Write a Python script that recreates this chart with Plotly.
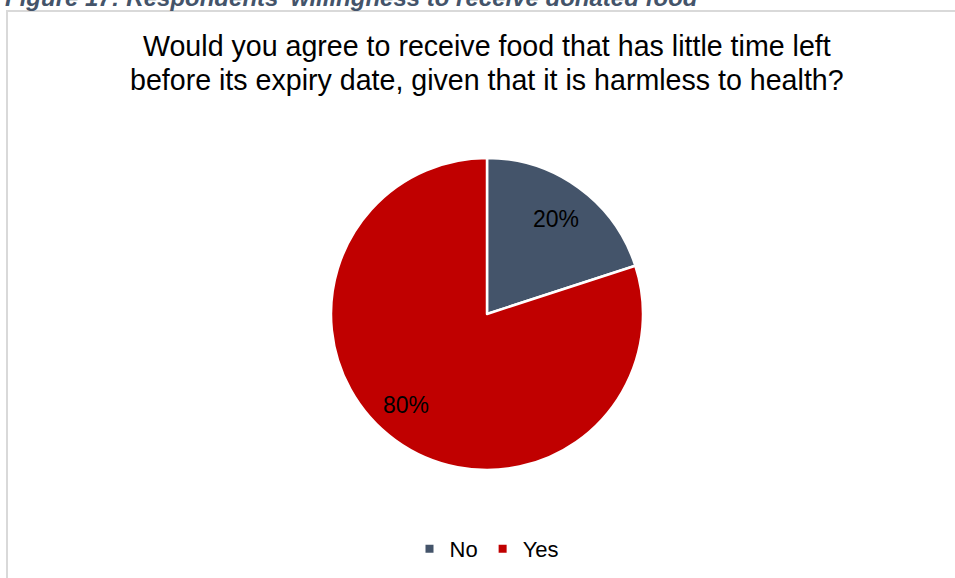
import math
import plotly.graph_objects as go

# Survey answers and their shares (%)
answers = ["No", "Yes"]
shares = [20, 80]
colors = ["#44546A", "#C00000"]

caption = "Figure 17: Respondents' willingness to receive donated food"
title_lines = [
    "Would you agree to receive food that has little time left",
    "before its expiry date, given that it is harmless to health?",
]

W, H = 955, 578
FONT = "Liberation Sans, Arial, sans-serif"

# pie placement (pixels)
cx, cy, R = 487, 314, 156
dom_x = [(cx - R) / W, (cx + R) / W]
dom_y = [1 - (cy + R) / H, 1 - (cy - R) / H]

fig = go.Figure()
fig.add_trace(go.Pie(
    labels=answers,
    values=shares,
    sort=False,
    direction="clockwise",
    rotation=0,
    marker=dict(colors=colors, line=dict(color="white", width=2.5)),
    textinfo="none",
    hoverinfo="label+percent",
    showlegend=False,
    domain=dict(x=dom_x, y=dom_y),
))

# legend entries with small square keys
for name, col in zip(answers, colors):
    fig.add_trace(go.Scatter(
        x=[None], y=[None], mode="markers", name=name,
        marker=dict(symbol="square", size=8, color=col),
        showlegend=True,
    ))

# percentage labels placed along each slice's bisector
annotations = []
total = sum(shares)
cum = 0
label_r = [0.75, 0.78]
label_shift = [0.0, 5.5]  # degrees
for v, rf, sh in zip(shares, label_r, label_shift):
    mid = (cum + v / 2) / total * 360 + sh
    cum += v
    th = math.radians(mid)
    px = cx + rf * R * math.sin(th)
    py = cy - rf * R * math.cos(th)
    annotations.append(dict(
        x=px / W, y=1 - py / H, xref="paper", yref="paper",
        text=f"{round(v / total * 100)}%", showarrow=False,
        xanchor="center", yanchor="middle",
        font=dict(family=FONT, size=23, color="#000000"),
    ))

# chart title, two lines
for line, yc in zip(title_lines, [46.5, 80.5]):
    annotations.append(dict(
        x=cx / W, y=1 - yc / H, xref="paper", yref="paper",
        text=line, showarrow=False, xanchor="center", yanchor="middle",
        font=dict(family=FONT, size=28.6, color="#000000"),
    ))

# figure caption above the chart frame
annotations.append(dict(
    x=3 / W, y=1 + 3 / H, xref="paper", yref="paper",
    text=f"<b><i>{caption}</i></b>", showarrow=False,
    xanchor="left", yanchor="middle",
    font=dict(family=FONT, size=24, color="#44546A"),
))

# chart frame edges
shapes = [
    dict(type="line", xref="paper", yref="paper",
         x0=7 / W, x1=7 / W, y0=0, y1=1 - 11 / H,
         line=dict(color="#D9D9D9", width=2)),
    dict(type="line", xref="paper", yref="paper",
         x0=6 / W, x1=1, y0=1 - 11 / H, y1=1 - 11 / H,
         line=dict(color="#D9D9D9", width=2)),
]

fig.update_layout(
    width=W, height=H,
    margin=dict(l=0, r=0, t=0, b=0),
    paper_bgcolor="white", plot_bgcolor="white",
    xaxis=dict(visible=False), yaxis=dict(visible=False),
    legend=dict(
        orientation="h", x=cx / W, xanchor="center",
        y=1 - 549 / H, yanchor="middle",
        font=dict(family=FONT, size=22, color="#000000"),
        itemwidth=30, bgcolor="rgba(0,0,0,0)",
    ),
    annotations=annotations,
    shapes=shapes,
)

fig.write_html("out.html")
